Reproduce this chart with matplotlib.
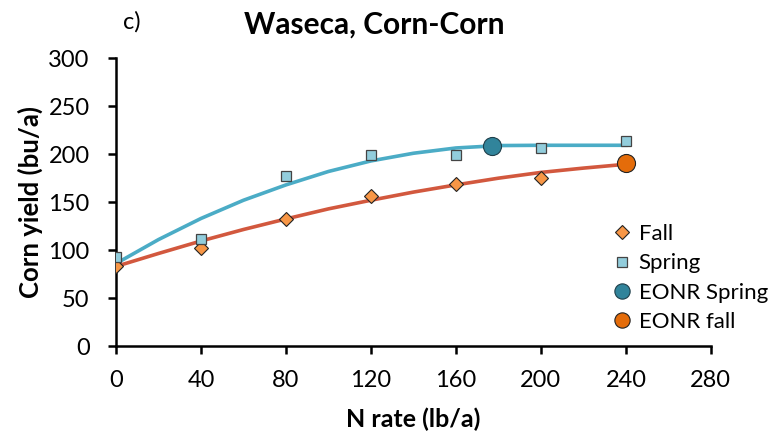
import matplotlib.pyplot as plt
from matplotlib.lines import Line2D

plt.rcParams['font.family'] = ['Lato', 'DejaVu Sans']

# measured yields (bu/a)
n_rate = [0, 40, 80, 120, 160, 200, 240]
fall = [83, 102, 132, 156, 169, 175]
fall_n = [0, 40, 80, 120, 160, 200]
spring = [93, 112, 177, 199, 199, 206, 214]

# EONR points
eonr_spring = (177, 209)
eonr_fall = (240, 191)

# fitted response curves, every 20 lb/a
curve_n = [0, 20, 40, 60, 80, 100, 120, 140, 160, 180, 200, 220, 240]
spring_curve = [86, 111, 133, 152, 168, 182, 193, 201, 206.5, 209, 209.3, 209.3, 209.3]
fall_curve = [83, 96.5, 109.5, 121.5, 132.5, 143, 152, 160.5, 168, 175, 181, 185.5, 189.5]

c_spring_line = '#4BACC6'
c_fall_line = '#D2583E'
c_fall = '#F79646'
c_spring = '#92CDDC'
c_eonr_s = '#31849B'
c_eonr_f = '#E46C0A'

fig = plt.figure(figsize=(7.71, 4.41), dpi=100)
ax = fig.add_axes([0.1505, 0.2154, 0.7715, 0.6524])

ax.plot(curve_n, spring_curve, color=c_spring_line, lw=2.6, zorder=2)
ax.plot(curve_n, fall_curve, color=c_fall_line, lw=2.6, zorder=2)

ax.plot(fall_n, fall, 'D', ms=7, mfc=c_fall, mec='#222222', mew=0.8, ls='none', zorder=3)
ax.plot(n_rate, spring, 's', ms=7.5, mfc=c_spring, mec='#444444', mew=0.9, ls='none', zorder=3)
ax.plot(*eonr_spring, 'o', ms=13, mfc=c_eonr_s, mec='#1f3f4a', mew=0.8, zorder=4)
ax.plot(*eonr_fall, 'o', ms=13, mfc=c_eonr_f, mec='#222222', mew=0.8, zorder=4)

ax.set_xlim(0, 280)
ax.set_ylim(0, 300)
ax.set_xticks(range(0, 281, 40))
ax.set_yticks(range(0, 301, 50))

for s in ['top', 'right']:
    ax.spines[s].set_visible(False)
for s in ['left', 'bottom']:
    ax.spines[s].set_linewidth(1.8)
ax.tick_params(direction='out', length=6, width=1.8, labelsize=17)
ax.tick_params(axis='x', pad=11)
ax.tick_params(axis='y', pad=13)

ax.set_xlabel('N rate (lb/a)', fontsize=18, fontweight='bold', labelpad=12)
ax.set_ylabel('Corn yield (bu/a)', fontsize=18.5, fontweight='bold', labelpad=4)

fig.text(0.486, 0.945, 'Waseca, Corn-Corn', fontsize=21.5, fontweight='bold', ha='center', va='center')
fig.text(0.171, 0.95, 'c)', fontsize=17, ha='center', va='center')

handles = [
    Line2D([], [], marker='D', ls='none', ms=7, mfc=c_fall, mec='#222222', mew=0.8),
    Line2D([], [], marker='s', ls='none', ms=7.5, mfc=c_spring, mec='#444444', mew=0.9),
    Line2D([], [], marker='o', ls='none', ms=11, mfc=c_eonr_s, mec='#1f3f4a', mew=0.8),
    Line2D([], [], marker='o', ls='none', ms=11, mfc=c_eonr_f, mec='#222222', mew=0.8),
]
fig.legend(handles, ['Fall', 'Spring', 'EONR Spring', 'EONR fall'],
           loc='upper left', bbox_to_anchor=(0.795, 0.492), frameon=False,
           fontsize=16, handlelength=0.8, handletextpad=0.35, labelspacing=0.42,
           borderaxespad=0, borderpad=0)

fig.savefig('out.png', dpi=100)
